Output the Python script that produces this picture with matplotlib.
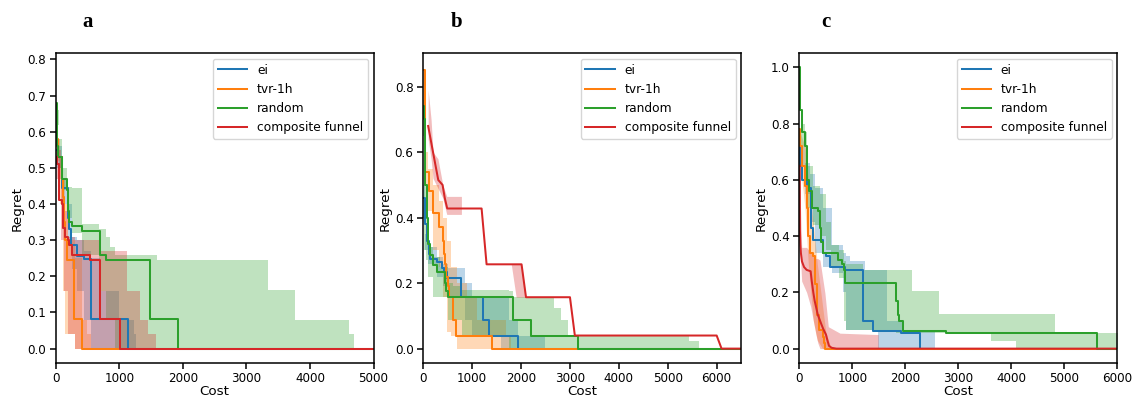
import matplotlib
matplotlib.use("Agg")
import matplotlib.pyplot as plt
import numpy as np

# ---------------- data ----------------
SERIES = ["ei", "tvr-1h", "random", "composite funnel"]
COLORS = ["#1f77b4", "#ff7f0e", "#2ca02c", "#d62728"]

# Panel a  (step curves)
A_EI_X = [0, 30, 95, 200, 215, 240, 330, 450, 560, 1135, 5000]
A_EI_Y = [0.55, 0.53, 0.443, 0.36, 0.33, 0.288, 0.257, 0.248, 0.081, 0.0, 0.0]
A_TVR_X = [0, 40, 95, 110, 130, 147, 173, 293, 410, 5000]
A_TVR_Y = [0.58, 0.53, 0.47, 0.42, 0.35, 0.30, 0.245, 0.081, 0.0, 0.0]
A_RAND_X = [0, 16, 41, 95, 184, 200, 215, 262, 410, 690, 795, 1490, 1920, 5000]
A_RAND_Y = [0.68, 0.56, 0.53, 0.47, 0.44, 0.38, 0.35, 0.34, 0.326, 0.26, 0.245, 0.081, 0.0, 0.0]
A_CF_X = [0, 16, 45, 95, 120, 147, 200, 215, 252, 540, 700, 1015, 5000]
A_CF_Y = [0.53, 0.51, 0.41, 0.40, 0.333, 0.31, 0.30, 0.287, 0.26, 0.245, 0.081, 0.0, 0.0]

A_EI_BX = [0, 100, 200, 250, 330, 450, 560, 700, 900, 1000, 1230, 1260]
A_EI_HI = [0.56, 0.47, 0.40, 0.31, 0.30, 0.27, 0.25, 0.16, 0.16, 0.08, 0.04, 0.0]
A_EI_LO = [0.50, 0.40, 0.30, 0.22, 0.16, 0.08, 0.0, 0.0, 0.0, 0.0, 0.0, 0.0]
A_TVR_BX = [0, 60, 110, 150, 200, 300, 420, 500, 560]
A_TVR_HI = [0.58, 0.53, 0.47, 0.40, 0.30, 0.25, 0.08, 0.04, 0.0]
A_TVR_LO = [0.52, 0.40, 0.16, 0.04, 0.04, 0.0, 0.0, 0.0, 0.0]
A_RAND_BX = [0, 50, 95, 174, 250, 410, 685, 795, 858, 937, 1590, 3344, 3765, 4617, 4685]
A_RAND_HI = [0.66, 0.58, 0.50, 0.447, 0.445, 0.346, 0.332, 0.31, 0.28, 0.259, 0.245, 0.162, 0.079, 0.04, 0.0]
A_RAND_LO = [0.62, 0.50, 0.44, 0.36, 0.32, 0.26, 0.16, 0.08, 0.08, 0.0, 0.0, 0.0, 0.0, 0.0, 0.0]
A_CF_BX = [0, 80, 130, 200, 300, 700, 1120, 1330, 1450, 1570]
A_CF_HI = [0.55, 0.45, 0.38, 0.31, 0.30, 0.27, 0.16, 0.08, 0.04, 0.0]
A_CF_LO = [0.47, 0.30, 0.16, 0.04, 0.0, 0.0, 0.0, 0.0, 0.0, 0.0]

# Panel b
B_EI_X = [0, 30, 70, 110, 140, 280, 380, 420, 480, 765, 1215, 1350, 1945, 6500]
B_EI_Y = [0.46, 0.38, 0.33, 0.29, 0.275, 0.265, 0.245, 0.235, 0.215, 0.157, 0.087, 0.04, 0.0, 0.0]
B_TVR_X = [0, 30, 116, 205, 327, 410, 430, 450, 475, 500, 530, 614, 668, 1398, 6500]
B_TVR_Y = [0.85, 0.54, 0.48, 0.415, 0.37, 0.33, 0.29, 0.26, 0.22, 0.19, 0.157, 0.087, 0.04, 0.0, 0.0]
B_RAND_X = [0, 14, 40, 70, 100, 136, 205, 273, 443, 464, 511, 1840, 2195, 3155, 6500]
B_RAND_Y = [0.74, 0.70, 0.50, 0.40, 0.32, 0.285, 0.255, 0.235, 0.20, 0.177, 0.157, 0.087, 0.04, 0.0, 0.0]
# composite funnel in b: polyline vertices (slanted drops)
B_CF_X = [100, 150, 200, 250, 307, 395, 440, 490, 1193, 1295, 2010, 2101, 3000, 3100, 6000, 6100, 6500]
B_CF_Y = [0.68, 0.64, 0.60, 0.56, 0.515, 0.50, 0.46, 0.428, 0.428, 0.2575, 0.2575, 0.157, 0.157,
          0.04, 0.04, 0.0, 0.0]

B_EI_BX = [0, 30, 100, 273, 410, 500, 850, 1000, 1600, 1750, 1943, 2490]
B_EI_HI = [0.50, 0.35, 0.31, 0.28, 0.26, 0.245, 0.20, 0.16, 0.16, 0.087, 0.04, 0.0]
B_EI_LO = [0.40, 0.30, 0.26, 0.22, 0.19, 0.157, 0.087, 0.04, 0.0, 0.0, 0.0, 0.0]
B_TVR_BX = [0, 30, 100, 200, 330, 410, 480, 560, 700, 900, 1100, 1700, 1800]
B_TVR_HI = [0.85, 0.60, 0.55, 0.50, 0.45, 0.40, 0.33, 0.25, 0.20, 0.16, 0.087, 0.04, 0.0]
B_TVR_LO = [0.70, 0.50, 0.42, 0.30, 0.25, 0.157, 0.05, 0.04, 0.0, 0.0, 0.0, 0.0, 0.0]
B_RAND_BX = [0, 20, 50, 100, 200, 350, 511, 600, 800, 1000, 1750, 1840, 2680, 2810, 2970, 5440, 5630]
B_RAND_HI = [0.76, 0.60, 0.45, 0.31, 0.28, 0.25, 0.20, 0.19, 0.18, 0.18, 0.177, 0.157, 0.123, 0.087, 0.04, 0.022, 0.0]
B_RAND_LO = [0.65, 0.30, 0.27, 0.22, 0.157, 0.157, 0.087, 0.087, 0.04, 0.04, 0.0, 0.0, 0.0, 0.0, 0.0, 0.0, 0.0]
B_CF_BX = [100, 160, 200, 300, 400, 480, 780, 781, 1800, 1900, 2010, 2101]
B_CF_HI = [0.79, 0.70, 0.60, 0.58, 0.50, 0.465, 0.465, 0.43, 0.2575, 0.2575, 0.2575, 0.157]
B_CF_LO = [0.64, 0.58, 0.52, 0.49, 0.46, 0.41, 0.41, 0.43, 0.2575, 0.157, 0.157, 0.157]

# Panel c
C_EI_X = [0, 20, 45, 138, 214, 264, 440, 503, 578, 860, 1193, 1394, 1928, 2274, 6000]
C_EI_Y = [0.72, 0.65, 0.60, 0.57, 0.43, 0.385, 0.34, 0.33, 0.29, 0.28, 0.10, 0.063, 0.055, 0.0, 0.0]
C_TVR_X = [0, 20, 60, 107, 140, 170, 200, 264, 295, 340, 377, 440, 460, 484, 6000]
C_TVR_Y = [0.78, 0.72, 0.65, 0.58, 0.50, 0.40, 0.34, 0.33, 0.23, 0.12, 0.065, 0.04, 0.02, 0.0, 0.0]
C_RAND_X = [0, 15, 44, 107, 140, 180, 232, 358, 390, 410, 452, 735, 798, 840, 860, 1822, 1860,
            1884, 1960, 2776, 5622, 6000]
C_RAND_Y = [1.0, 0.85, 0.77, 0.72, 0.60, 0.56, 0.50, 0.49, 0.43, 0.38, 0.34, 0.315, 0.30, 0.28,
            0.235, 0.17, 0.12, 0.10, 0.063, 0.055, 0.0, 0.0]
# composite funnel in c: smooth polyline
C_CF_X = [8, 12, 20, 30, 50, 90, 138, 214, 235, 264, 290, 314, 350, 390, 420, 452, 503, 530, 560,
          610, 700, 6000]
C_CF_Y = [0.65, 0.42, 0.37, 0.34, 0.31, 0.29, 0.28, 0.275, 0.24, 0.20, 0.17, 0.15, 0.12, 0.10,
          0.085, 0.07, 0.05, 0.03, 0.01, 0.003, 0.0, 0.0]

C_EI_BX = [0, 100, 200, 300, 450, 610, 830, 890, 960, 1240, 1490, 1650, 1930, 2560]
C_EI_HI = [0.72, 0.66, 0.62, 0.57, 0.50, 0.37, 0.34, 0.33, 0.31, 0.28, 0.28, 0.10, 0.06, 0.0]
C_EI_LO = [0.65, 0.55, 0.45, 0.34, 0.29, 0.27, 0.20, 0.065, 0.065, 0.065, 0.0, 0.0, 0.0, 0.0]
C_TVR_BX = [0, 50, 107, 170, 264, 340, 440, 500, 600]
C_TVR_HI = [0.78, 0.75, 0.72, 0.60, 0.45, 0.30, 0.15, 0.06, 0.0]
C_TVR_LO = [0.70, 0.60, 0.50, 0.30, 0.10, 0.03, 0.0, 0.0, 0.0]
C_RAND_BX = [0, 40, 100, 150, 250, 400, 500, 600, 750, 850, 890, 1200, 1834, 2133, 2635, 3620,
             4090, 4830, 6100]
C_RAND_HI = [1.0, 0.80, 0.77, 0.65, 0.58, 0.55, 0.45, 0.37, 0.35, 0.31, 0.30, 0.28, 0.28, 0.205,
             0.122, 0.122, 0.122, 0.055, 0.055]
C_RAND_LO = [0.90, 0.72, 0.62, 0.50, 0.44, 0.40, 0.35, 0.29, 0.25, 0.10, 0.065, 0.065, 0.055,
             0.055, 0.055, 0.028, 0.0, 0.0, 0.0]
C_CF_BX = [0, 45, 138, 214, 264, 314, 350, 390, 484, 547, 767, 1490, 1491]
C_CF_HI = [0.65, 0.36, 0.36, 0.34, 0.33, 0.32, 0.32, 0.315, 0.197, 0.078, 0.055, 0.05, 0.0]
C_CF_LO = [0.40, 0.24, 0.20, 0.15, 0.10, 0.05, 0.02, 0.0, 0.0, 0.0, 0.0, 0.0, 0.0]

# which curves are step functions (True) or polylines (False)
A_STEP = [True, True, True, True]
B_STEP = [True, True, True, False]
C_STEP = [True, True, True, False]
A_BAND_STEP = [True, True, True, True]
B_BAND_STEP = [True, True, True, False]
C_BAND_STEP = [True, False, True, False]

PANELS = [
    dict(letter="a", xlim=(0, 5000), ylim=(-0.039, 0.817), yticks=np.arange(0, 0.81, 0.1),
         xticks=np.arange(0, 5001, 1000), step=A_STEP, bstep=A_BAND_STEP,
         lines=[(A_EI_X, A_EI_Y), (A_TVR_X, A_TVR_Y), (A_RAND_X, A_RAND_Y), (A_CF_X, A_CF_Y)],
         bands=[(A_EI_BX, A_EI_LO, A_EI_HI), (A_TVR_BX, A_TVR_LO, A_TVR_HI),
                (A_RAND_BX, A_RAND_LO, A_RAND_HI), (A_CF_BX, A_CF_LO, A_CF_HI)]),
    dict(letter="b", xlim=(0, 6500), ylim=(-0.043, 0.902), yticks=np.arange(0, 0.81, 0.2),
         xticks=np.arange(0, 6001, 1000), step=B_STEP, bstep=B_BAND_STEP,
         lines=[(B_EI_X, B_EI_Y), (B_TVR_X, B_TVR_Y), (B_RAND_X, B_RAND_Y), (B_CF_X, B_CF_Y)],
         bands=[(B_EI_BX, B_EI_LO, B_EI_HI), (B_TVR_BX, B_TVR_LO, B_TVR_HI),
                (B_RAND_BX, B_RAND_LO, B_RAND_HI), (B_CF_BX, B_CF_LO, B_CF_HI)]),
    dict(letter="c", xlim=(0, 6000), ylim=(-0.05, 1.05), yticks=np.arange(0, 1.01, 0.2),
         xticks=np.arange(0, 6001, 1000), step=C_STEP, bstep=C_BAND_STEP,
         lines=[(C_EI_X, C_EI_Y), (C_TVR_X, C_TVR_Y), (C_RAND_X, C_RAND_Y), (C_CF_X, C_CF_Y)],
         bands=[(C_EI_BX, C_EI_LO, C_EI_HI), (C_TVR_BX, C_TVR_LO, C_TVR_HI),
                (C_RAND_BX, C_RAND_LO, C_RAND_HI), (C_CF_BX, C_CF_LO, C_CF_HI)]),
]

# ---------------- figure ----------------
plt.rcParams["font.family"] = ["DejaVu Sans"]
fig = plt.figure(figsize=(11.32, 3.97), dpi=100)
lefts = [0.0492, 0.3739, 0.7061]
letter_x = [0.0777, 0.4037, 0.7297]
for i, p in enumerate(PANELS):
    ax = fig.add_axes([lefts[i], 0.0864, 0.2808, 0.7793])
    for (bx, lo, hi), c, st in zip(p["bands"], COLORS, p["bstep"]):
        ax.fill_between(bx, lo, hi, step="post" if st else None, color=c, alpha=0.3, linewidth=0)
    for (x, y), c, name, st in zip(p["lines"], COLORS, SERIES, p["step"]):
        ax.plot(x, y, drawstyle="steps-post" if st else "default", color=c, lw=1.45, label=name)
    ax.set_xlim(*p["xlim"])
    ax.set_ylim(*p["ylim"])
    ax.set_xticks(p["xticks"])
    ax.set_yticks(p["yticks"])
    ax.set_yticklabels([f"{v:.1f}" for v in p["yticks"]])
    ax.tick_params(axis="both", labelsize=8.6, length=4.5, width=1.1, pad=2.5, direction="out")
    for s in ax.spines.values():
        s.set_linewidth(1.1)
    ax.set_xlabel("Cost", fontsize=9.7, labelpad=0)
    ax.set_ylabel("Regret", fontsize=9.7, labelpad=2.5)
    ax.legend(loc="upper right", fontsize=8.8, handlelength=2.4, labelspacing=0.5,
              handletextpad=0.8, borderaxespad=0.45, framealpha=0.8, fancybox=True)
    fig.text(letter_x[i], 0.945, p["letter"], fontsize=15, fontweight="bold",
             family=["Liberation Serif", "DejaVu Serif"], ha="center", va="center")

fig.savefig("out.png", dpi=100)
